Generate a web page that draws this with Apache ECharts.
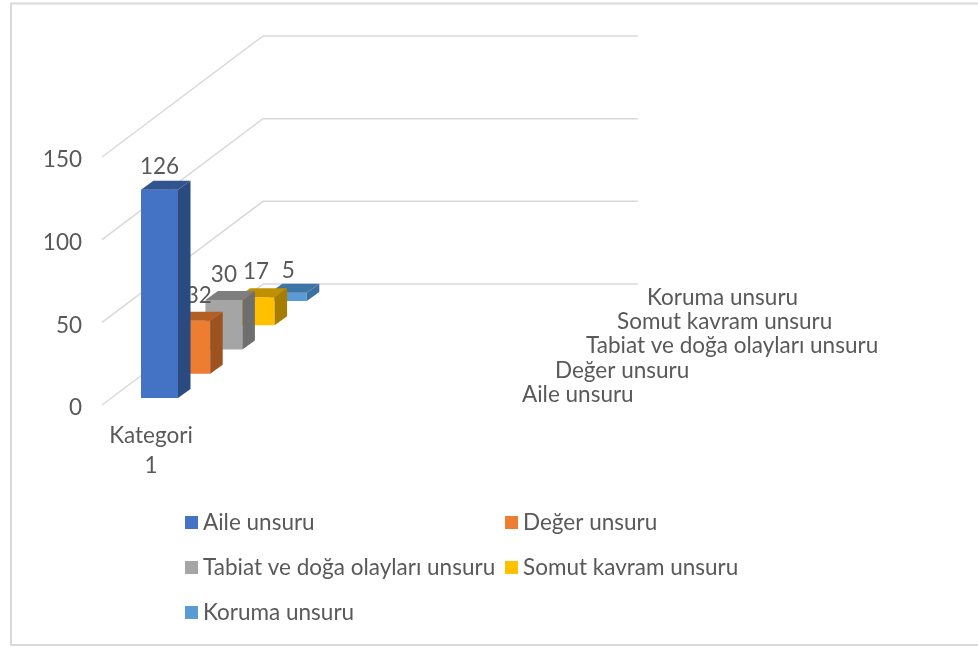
<!DOCTYPE html>
<html>
<head>
<meta charset="utf-8">
<style>html,body{margin:0;padding:0;background:#fff}#c{width:978px;height:646px}</style>
<script src="https://cdn.jsdelivr.net/npm/echarts@6/dist/echarts.min.js"></script>
</head>
<body>
<div id="c"></div>
<script>
const categories = ['Kategori 1'];
const seriesNames = ['Aile unsuru', 'Değer unsuru', 'Tabiat ve doğa olayları unsuru', 'Somut kavram unsuru', 'Koruma unsuru'];
const seriesValues = [126, 32, 30, 17, 5];
const valueTicks = [0, 50, 100, 150];
const frontColors = ['#4472C4', '#ED7D31', '#A5A5A5', '#FFC000', '#5B9BD5'];
const sideColors = ['#2A4A80', '#9C531F', '#6E6E6E', '#A67D00', '#3B6F9E'];
const topColors = ['#31548F', '#B35E25', '#7E7E7E', '#BF9000', '#3F75A5'];

const FONT = 'Lato, "Open Sans", sans-serif';
const FS = 22.5;
const TEXT = '#595959';
const GRID = '#D9D9D9';
const depth = { x: 161, y: 121, floor: 375 };
const row = { x: 32.2, y: 24.25 };
const bar = { left: -10, lift: 7, w: 37, dx: 12.5, dy: 9 };
const labelShiftX = [0, 7, 0, 0, 0];
const labelShiftY = [2, 0, 0, 0, 3];
const depthLabelX = [371, 404, 435, 466, 496];

function renderWall(params, api) {
  const tick = api.value(1);
  const y = api.coord([0, tick])[1];
  const x = params.coordSys.x;
  return {
    type: 'polyline',
    shape: { points: [[x, y], [x + depth.x, y - depth.y], [x + depth.x + depth.floor, y - depth.y]] },
    style: { stroke: GRID, lineWidth: 1.5, fill: null }
  };
}

function renderBar(i) {
  return function (params, api) {
    const base = api.coord([0, 0]);
    const top = api.coord([0, api.value(1)]);
    const xl = base[0] + bar.left + row.x * i;
    const xr = xl + bar.w;
    const yb = base[1] - bar.lift - row.y * i;
    const yt = top[1] - bar.lift - row.y * i;
    const face = (pts, fill) => ({ type: 'polygon', shape: { points: pts }, style: { fill: fill, stroke: null } });
    return {
      type: 'group',
      children: [
        {
          type: 'text',
          style: {
            x: base[0] + depthLabelX[i], y: base[1] - 10.5 - row.y * i,
            text: params.seriesName, fill: TEXT, font: FS + 'px ' + FONT, align: 'left', verticalAlign: 'middle'
          }
        },
        {
          type: 'text',
          style: {
            x: (xl + xr) / 2 + labelShiftX[i], y: yt - bar.dy - 16 + labelShiftY[i],
            text: String(api.value(1)), fill: TEXT, font: FS + 'px ' + FONT, align: 'center', verticalAlign: 'middle'
          }
        },
        face([[xl, yb], [xr, yb], [xr, yt], [xl, yt]], frontColors[i]),
        face([[xr, yb], [xr + bar.dx, yb - bar.dy], [xr + bar.dx, yt - bar.dy], [xr, yt]], sideColors[i]),
        face([[xl, yt], [xr, yt], [xr + bar.dx, yt - bar.dy], [xl + bar.dx, yt - bar.dy]], topColors[i])
      ]
    };
  };
}

const legendBase = {
  orient: 'vertical', icon: 'rect', itemWidth: 13, itemHeight: 13, itemGap: 22,
  selectedMode: false,
  textStyle: { color: TEXT, fontFamily: FONT, fontSize: FS }
};

const option = {
  animation: false,
  backgroundColor: '#fff',
  grid: { left: 102, top: 157, width: 98, height: 248 },
  xAxis: {
    type: 'category', data: categories,
    axisLine: { show: false }, axisTick: { show: false },
    axisLabel: {
      margin: 16, color: TEXT, fontFamily: FONT, fontSize: FS, lineHeight: 30,
      formatter: v => v.replace(' ', '\n')
    }
  },
  yAxis: {
    type: 'value', min: 0, max: 150, interval: 50,
    axisLine: { show: false }, axisTick: { show: false }, splitLine: { show: false },
    axisLabel: {
      margin: 20,
      formatter: v => '{t|' + v + '}',
      rich: { t: { color: TEXT, fontFamily: FONT, fontSize: FS, padding: [6, 0, 0, 0] } }
    }
  },
  legend: [
    Object.assign({}, legendBase, { left: 180, top: 506, data: [seriesNames[0], seriesNames[2], seriesNames[4]] }),
    Object.assign({}, legendBase, { left: 500, top: 506, data: [seriesNames[1], seriesNames[3]] })
  ],
  graphic: [
    { type: 'polyline', silent: true, shape: { points: [[978, 3.5], [11, 3.5], [11, 645], [978, 645]] }, style: { stroke: GRID, lineWidth: 2, fill: null } }
  ],
  series: [
    { type: 'custom', name: 'grid', z: 1, silent: true, data: valueTicks.map(t => [0, t]), renderItem: renderWall, encode: { x: 0, y: 1 } }
  ].concat(seriesNames.map((name, i) => ({
    type: 'custom', name: name, z: 10 - i, silent: true,
    itemStyle: { color: frontColors[i] },
    data: [[0, seriesValues[i]]],
    renderItem: renderBar(i), encode: { x: 0, y: 1 }
  })))
};

echarts.init(document.getElementById('c'), null, { renderer: 'canvas' }).setOption(option);
</script>
</body>
</html>
